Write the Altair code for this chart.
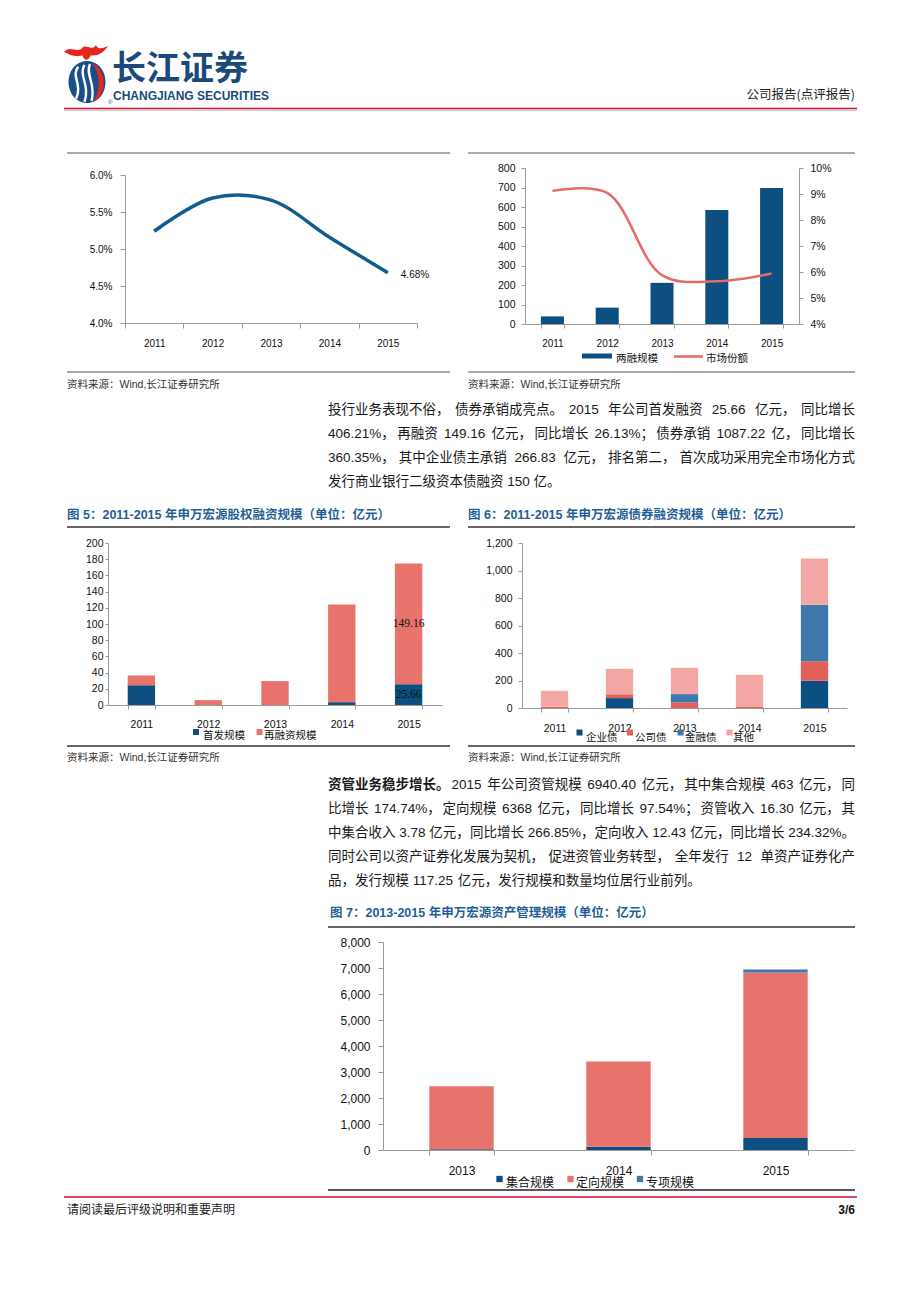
import altair as alt
import pandas as pd

# ------------------------------------------------------------------ data
years5 = ['2011', '2012', '2013', '2014', '2015']
years3 = ['2013', '2014', '2015']

rate_series = [0.0524, 0.0569, 0.0566, 0.0516, 0.0468]
rate_ticks = [0.04, 0.045, 0.05, 0.055, 0.06]

margin_scale = [39, 84, 211, 585, 697]
market_share = [0.0912, 0.0904, 0.0588, 0.0564, 0.0594]
margin_ticks = [0, 100, 200, 300, 400, 500, 600, 700, 800]
share_ticks = [0.04, 0.05, 0.06, 0.07, 0.08, 0.09, 0.10]

eq_names = ['首发规模', '再融资规模']
eq_ipo = [24.5, 0, 0, 3.5, 25.66]
eq_refi = [12.0, 6.0, 29.5, 120.5, 149.16]
eq_ticks = [0, 20, 40, 60, 80, 100, 120, 140, 160, 180, 200]

bond_names = ['企业债', '公司债', '金融债', '其他']
bond_corp = [0, 72, 0, 0, 198]
bond_company = [10, 28, 41, 10, 142]
bond_fin = [0, 0, 60, 0, 411]
bond_other = [115, 185, 191, 231, 336]
bond_ticks = [0, 200, 400, 600, 800, 1000, 1200]

am_names = ['集合规模', '定向规模', '专项规模']
am_coll = [30, 128, 463]
am_dir = [2420, 3280, 6368]
am_spec = [0, 0, 109.4]
am_ticks = [0, 1000, 2000, 3000, 4000, 5000, 6000, 7000, 8000]

para1 = [
    "投行业务表现不俗，债券承销成亮点。2015 年公司首发融资 25.66 亿元，同比增长",
    "406.21%，再融资 149.16 亿元，同比增长 26.13%；债券承销 1087.22 亿，同比增长",
    "360.35%，其中企业债主承销 266.83 亿元，排名第二，首次成功采用完全市场化方式",
    "发行商业银行二级资本债融资 150 亿。",
]
para2_bold = "资管业务稳步增长。"
para2 = [
    "资管业务稳步增长。2015 年公司资管规模 6940.40 亿元，其中集合规模 463 亿元，同",
    "比增长 174.74%，定向规模 6368 亿元，同比增长 97.54%；资管收入 16.30 亿元，其",
    "中集合收入 3.78 亿元，同比增长 266.85%，定向收入 12.43 亿元，同比增长 234.32%。",
    "同时公司以资产证券化发展为契机，促进资管业务转型，全年发行 12 单资产证券化产",
    "品，发行规模 117.25 亿元，发行规模和数量均位居行业前列。",
]
title5 = "图 5：2011-2015 年申万宏源股权融资规模（单位：亿元）"
title6 = "图 6：2011-2015 年申万宏源债券融资规模（单位：亿元）"
title7 = "图 7：2013-2015 年申万宏源资产管理规模（单位：亿元）"
source = "资料来源：Wind,长江证券研究所"

# ------------------------------------------------------------------ layout helpers
W, H = 904, 1286
OX, OY = 8, 8
FONT = "Liberation Sans, Noto Sans CJK SC, sans-serif"
CJK = "Noto Sans CJK SC, Liberation Sans, sans-serif"
AX = '#9a9a9a'
DARK = '#0c4f80'
RED = '#e8736c'
MID = '#3d78ab'
TITLE = '#1f5f96'
ONE = pd.DataFrame({'k': [0]})
PUNCT = '，。；：'


def px(x):
    return x - OX


def py(y):
    return y - OY


def T(s, x, y, size, color='#1a1a1a', weight='normal', align='left', font=FONT):
    return alt.Chart(ONE).mark_text(
        text=s, fontSize=size, color=color, fontWeight=weight, align=align,
        baseline='middle', font=font
    ).encode(x=alt.value(px(x)), y=alt.value(py(y)))


def R(x1, x2, y, color='#333333', width=1.0):
    return alt.Chart(ONE).mark_rule(color=color, strokeWidth=width).encode(
        x=alt.value(px(x1)), x2=alt.value(px(x2)), y=alt.value(py(y)))


def SQ(x, y, color, size=36):
    return alt.Chart(ONE).mark_square(size=size, color=color, opacity=1).encode(
        x=alt.value(px(x)), y=alt.value(py(y)))


def yaxis(orient, xpos, values, fmt, size, tick, pad):
    off = -px(xpos) if orient == 'left' else px(xpos) - W
    return alt.Axis(orient=orient, offset=off, values=values, format=fmt, title=None,
                    grid=False, labelFont=FONT, labelFontSize=size, labelColor='#111111',
                    domainColor=AX, tickColor=AX, tickSize=tick, labelPadding=pad,
                    domainWidth=1, tickWidth=1, labelOverlap=False)


def xaxis(ypos, size, tick, pad):
    return alt.Axis(orient='bottom', offset=py(ypos) - H, title=None, grid=False,
                    labelAngle=0, tickBand='extent', labelFont=FONT, labelFontSize=size,
                    labelColor='#111111', domainColor=AX, tickColor=AX, tickSize=tick,
                    labelPadding=pad, domainWidth=1, tickWidth=1)


def est_w(s, size):
    w = 0.0
    for ch in s:
        o = ord(ch)
        if o >= 0x2E80:
            w += 1.0
        elif ch.isdigit():
            w += 0.556
        elif ch in '.,':
            w += 0.278
        elif ch == '%':
            w += 0.889
        elif ch == ' ':
            w += 0.278
        elif ch == '-':
            w += 0.333
        else:
            w += 0.6
    return w * size


def split_line(line):
    """Split a line into chunks at spaces and after full-width punctuation."""
    chunks = []
    cur = ''
    for ch in line:
        if ch == ' ':
            if cur:
                chunks.append([cur, 0.278])
            cur = ''
        elif ch in PUNCT:
            cur += ch
            chunks.append([cur, 0.0])
            cur = ''
        else:
            cur += ch
    if cur:
        chunks.append([cur, 0.0])
    return chunks


def paragraph(lines, y0, lh, x0=328, x1=855, size=13.5, bold=None):
    out = []
    for i, line in enumerate(lines):
        y = y0 + i * lh
        chunks = split_line(line)
        last = i == len(lines) - 1
        widths = [est_w(c, size) for c, _ in chunks]
        base = [g * size for _, g in chunks]
        n = len(chunks)
        if last or n == 1:
            extra = 0.0
        else:
            natural = sum(widths) + sum(base[:-1])
            extra = (x1 - x0 - natural) / (n - 1)
        x = x0
        for j, ((c, _), wd) in enumerate(zip(chunks, widths)):
            if (not last) and n > 1 and j == n - 1:
                out.append(T(c, x1, y, size, align='right'))
            elif bold and i == 0 and c.startswith(bold):
                out.append(T(bold, x, y, size, weight='bold'))
                rest = c[len(bold):]
                if rest:
                    out.append(T(rest, x + est_w(bold, size), y, size))
            else:
                out.append(T(c, x, y, size))
            x += wd + base[j] + extra
    return out


def band(x0, x1, inner):
    return dict(type='band', range=[px(x0), px(x1)], paddingInner=inner, paddingOuter=inner / 2)


def long_df(years, names, arrays):
    rows = []
    for i, yr in enumerate(years):
        for k, (n, a) in enumerate(zip(names, arrays)):
            rows.append({'year': yr, 'series': n, 'value': a[i], 'k': k})
    return pd.DataFrame(rows)


# ------------------------------------------------------------------ chart 1 (line)
df1 = pd.DataFrame({'year': years5, 'rate': rate_series})
X1 = alt.Scale(domain=years5, **band(125, 417, 0))
Y1 = alt.Scale(domain=[0.04, 0.06], range=[py(323), py(175)], nice=False, zero=False)
XA1 = xaxis(323, 10, 5, 10)
YA1 = yaxis('left', 125, rate_ticks, '.1%', 10, 5, 8)
line1 = alt.Chart(df1).mark_line(interpolate='catmull-rom', color='#105c8e', strokeWidth=3.5).encode(
    x=alt.X('year:O', scale=X1, axis=XA1),
    y=alt.Y('rate:Q', scale=Y1, axis=YA1),
)
lab1 = alt.Chart(df1.iloc[[-1]]).mark_text(
    align='left', dx=13, dy=2, fontSize=10, font=FONT, color='#111111'
).encode(
    x=alt.X('year:O', scale=X1, axis=XA1),
    y=alt.Y('rate:Q', scale=Y1, axis=YA1),
    text=alt.Text('rate:Q', format='.2%'),
)
c1 = alt.layer(line1, lab1)

# ------------------------------------------------------------------ chart 2 (bar + line)
df2 = pd.DataFrame({'year': years5, 'scale': margin_scale, 'share': market_share})
X2 = alt.Scale(domain=years5, **band(525, 799, 0.58))
XA2 = xaxis(324, 10, 4, 10)
bars2 = alt.Chart(df2).mark_bar(color=DARK).encode(
    x=alt.X('year:O', scale=X2, axis=XA2),
    y=alt.Y('scale:Q', scale=alt.Scale(domain=[0, 800], range=[py(324), py(168)], nice=False),
            axis=yaxis('left', 525, margin_ticks, 'd', 10.5, 4, 6)),
)
line2 = alt.Chart(df2).mark_line(interpolate='catmull-rom', color='#e46c66', strokeWidth=2.5).encode(
    x=alt.X('year:O', scale=X2, axis=XA2),
    y=alt.Y('share:Q', scale=alt.Scale(domain=[0.04, 0.10], range=[py(324), py(168)], nice=False, zero=False),
            axis=yaxis('right', 799, share_ticks, '.0%', 10.5, 4, 7)),
)
c2 = alt.layer(bars2, line2).resolve_scale(y='independent')

# ------------------------------------------------------------------ chart 5 (equity stacked)
df5 = long_df(years5, eq_names, [eq_ipo, eq_refi])
X5 = alt.Scale(domain=years5, **band(108, 442, 0.59))
Y5 = alt.Scale(domain=[0, 200], range=[py(705), py(543)], nice=False)
XA5 = xaxis(705, 10.5, 4, 10)
YA5 = yaxis('left', 108, eq_ticks, 'd', 10.5, 3, 2)
bars5 = alt.Chart(df5).mark_bar().encode(
    x=alt.X('year:O', scale=X5, axis=XA5),
    y=alt.Y('value:Q', stack='zero', scale=Y5, axis=YA5),
    color=alt.Color('series:N', scale=alt.Scale(domain=eq_names, range=[DARK, RED]), legend=None),
    order=alt.Order('k:Q'),
)
lab5_df = pd.DataFrame({
    'year': [years5[-1], years5[-1]],
    'value': [eq_ipo[-1] / 2, eq_ipo[-1] + eq_refi[-1] / 2],
    'label': [f"{eq_ipo[-1]:.2f}", f"{eq_refi[-1]:.2f}"],
})
lab5 = alt.Chart(lab5_df).mark_text(fontSize=11.5, font="Liberation Serif, serif", color='#111111').encode(
    x=alt.X('year:O', scale=X5, axis=XA5),
    y=alt.Y('value:Q', scale=Y5, axis=YA5),
    text='label:N',
)
c5 = alt.layer(bars5, lab5)

# ------------------------------------------------------------------ chart 6 (bond stacked)
df6 = long_df(years5, bond_names, [bond_corp, bond_company, bond_fin, bond_other])
X6 = alt.Scale(domain=years5, **band(522, 847, 0.58))
bars6 = alt.Chart(df6).mark_bar().encode(
    x=alt.X('year:O', scale=X6, axis=xaxis(708, 10.5, 4, 11)),
    y=alt.Y('value:Q', stack='zero', scale=alt.Scale(domain=[0, 1200], range=[py(708), py(543)], nice=False),
            axis=yaxis('left', 522, bond_ticks, ',d', 10.5, 4, 6)),
    color=alt.Color('series:N', scale=alt.Scale(domain=bond_names, range=[DARK, '#e2605a', MID, '#f3a7a4']),
                    legend=None),
    order=alt.Order('k:Q'),
)
c6 = bars6

# ------------------------------------------------------------------ chart 7 (asset mgmt stacked)
df7 = long_df(years3, am_names, [am_coll, am_dir, am_spec])
X7 = alt.Scale(domain=years3, **band(383, 854, 0.59))
bars7 = alt.Chart(df7).mark_bar().encode(
    x=alt.X('year:O', scale=X7, axis=xaxis(1150, 12, 5, 10.5)),
    y=alt.Y('value:Q', stack='zero', scale=alt.Scale(domain=[0, 8000], range=[py(1150), py(942)], nice=False),
            axis=yaxis('left', 383, am_ticks, ',d', 12, 5, 8)),
    color=alt.Color('series:N', scale=alt.Scale(domain=am_names, range=[DARK, RED, MID]), legend=None),
    order=alt.Order('k:Q'),
)
c7 = bars7

# ------------------------------------------------------------------ logo
oval = "M0,-1C0.5,-1,0.88,-0.56,0.88,0C0.88,0.56,0.5,1,0,1C-0.5,1,-0.88,0.56,-0.88,0C-0.88,-0.56,-0.5,-1,0,-1Z"
cres = "M0.22,-0.92C0.98,-0.6,0.98,0.62,0.28,0.96C0.66,0.5,0.66,-0.45,0.22,-0.92Z"
sw1 = "M-0.42,-0.72C-0.78,-0.3,-0.2,0.1,-0.52,0.8"
sw2 = "M-0.12,-0.82C-0.42,-0.3,0.16,0.12,-0.12,0.95"
sw3 = "M0.14,-0.86C-0.1,-0.36,0.44,0.08,0.22,0.9"
crown = ("M-1,-0.1C-0.7,-0.4,-0.45,-0.05,-0.2,-0.25C0,-0.5,0.25,-0.1,0.45,-0.4C0.6,-0.15,0.8,-0.3,1,-0.35"
         "C0.75,0.0,0.5,0.1,0.22,0.06C0.12,0.32,-0.1,0.34,-0.16,0.06C-0.45,0.16,-0.72,0.06,-1,-0.1Z")


def LOGO(shape, x, y, size, color, filled=True, sw=0):
    return alt.Chart(ONE).mark_point(shape=shape, size=size, filled=filled, color=color,
                                     opacity=1, strokeWidth=sw).encode(
        x=alt.value(px(x)), y=alt.value(py(y)))


logo = [
    LOGO(oval, 87, 82, 1764, '#1b4f8c'),
    LOGO(cres, 87, 82, 1764, '#e8251f'),
    LOGO(sw1, 87, 82, 1764, 'white', filled=False, sw=2.4),
    LOGO(sw2, 87, 82, 1764, 'white', filled=False, sw=2.4),
    LOGO(sw3, 87, 82, 1764, 'white', filled=False, sw=2.4),
    LOGO(crown, 86, 54, 1936, '#e8251f'),
    T('®', 108, 102, 6, color='#1b4f8c'),
]

# ------------------------------------------------------------------ page furniture
deco = []
deco += logo
deco += [
    T('长江证券', 112, 70, 34, color='#1b4a7a', weight='bold', font=CJK),
    T('CHANGJIANG SECURITIES', 113, 96, 12, color='#1b4a7a', weight='bold'),
    T('公司报告(点评报告)', 855, 95, 12.5, color='#222222', align='right', font=CJK),
    R(64, 857, 108.5, '#c8102e', 1.6),
    R(64, 857, 110.5, '#bbbbbb', 0.8),
    # row 1 frames
    R(67, 450, 153, '#555555', 1), R(468, 855, 153, '#555555', 1),
    R(67, 450, 372, '#555555', 1), R(468, 855, 372, '#555555', 1),
    T(source, 67, 385, 10.5, color='#333333'), T(source, 468, 385, 10.5, color='#333333'),
    # chart 2 legend
    R(582, 612, 356, DARK, 5), T('两融规模', 616, 359, 10.5, color='#111111'),
    R(674, 703, 356.5, '#e46c66', 2.5), T('市场份额', 706, 359, 10.5, color='#111111'),
    # row 2 titles and frames
    T(title5, 67, 515, 12.5, color=TITLE, weight='bold'),
    T(title6, 468, 515, 12.5, color=TITLE, weight='bold'),
    R(67, 450, 527, '#333333', 1.3), R(468, 855, 527, '#333333', 1.3),
    R(67, 450, 746, '#333333', 1.3), R(468, 855, 746, '#333333', 1.3),
    T(source, 67, 758, 10.5, color='#333333'), T(source, 468, 758, 10.5, color='#333333'),
    # chart 5 legend
    SQ(196, 732, DARK), T('首发规模', 203, 736, 10.5, color='#111111'),
    SQ(259.5, 732, RED), T('再融资规模', 264, 736, 10.5, color='#111111'),
    # chart 6 legend
    SQ(579.5, 732.5, DARK), T('企业债', 586, 738, 10.5, color='#111111'),
    SQ(630, 732.5, '#e2605a'), T('公司债', 635, 738, 10.5, color='#111111'),
    SQ(680.5, 732.5, MID), T('金融债', 685, 738, 10.5, color='#111111'),
    SQ(729.5, 732.5, '#f3a7a4'), T('其他', 733, 738, 10.5, color='#111111'),
    # chart 7
    T(title7, 330, 913, 12.5, color=TITLE, weight='bold'),
    R(328, 855, 927, '#333333', 1.3),
    SQ(499.5, 1179, DARK, 40), T('集合规模', 506, 1183, 12, color='#111111'),
    SQ(570.5, 1179, RED, 40), T('定向规模', 576, 1183, 12, color='#111111'),
    SQ(640, 1179, MID, 40), T('专项规模', 646, 1183, 12, color='#111111'),
    R(328, 855, 1190, '#222222', 1.5),
    # footer
    R(64, 857, 1197, '#c8102e', 1.3),
    T('请阅读最后评级说明和重要声明', 67, 1210, 12, color='#222222', font=CJK),
    T('3/6', 855, 1210, 12, color='#111111', weight='bold', align='right'),
]
deco += paragraph(para1, 410, 24)
deco += paragraph(para2, 785, 24, bold=para2_bold)

chart = alt.layer(c1, c2, c5, c6, c7, *deco).resolve_scale(
    x='independent', y='independent', color='independent'
).properties(
    width=W, height=H, padding=0, background='white',
    autosize=alt.AutoSizeParams(type='none'),
).configure_view(strokeWidth=0)

chart.save("out.html", embed_options={"renderer": "svg", "actions": False})
